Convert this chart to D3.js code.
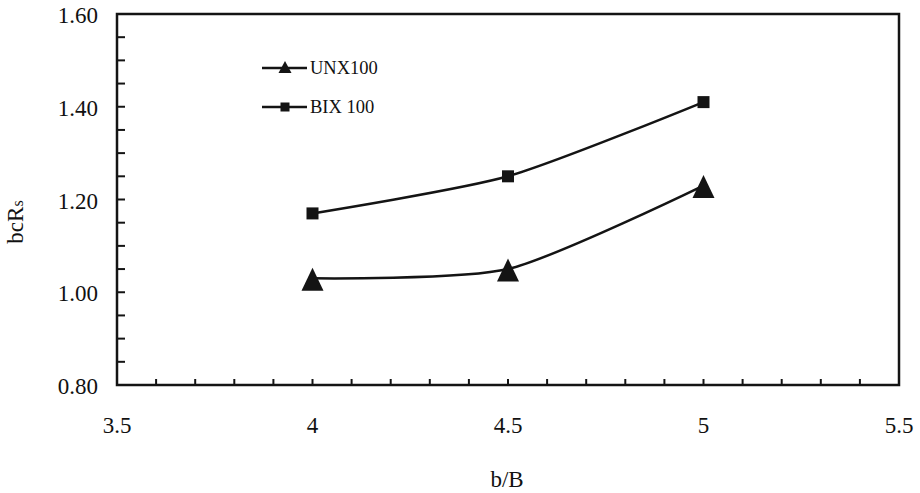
<!DOCTYPE html>
<html>
<head>
<meta charset="utf-8">
<script src="https://cdn.jsdelivr.net/npm/d3@7"></script>
<style>
  html, body { margin: 0; padding: 0; background: #fff; }
  svg { display: block; }
  text { font-family: "Liberation Serif", "Times New Roman", serif; fill: #111; }
</style>
</head>
<body>
<svg id="chart" width="920" height="493"></svg>
<script>
// Ratio values at each b/B
const ratios = [4, 4.5, 5];
const unx100 = [1.03, 1.05, 1.23];
const bix100 = [1.17, 1.25, 1.41];
const xTickLabels = [3.5, 4, 4.5, 5, 5.5];
const yTickLabels = [0.8, 1.0, 1.2, 1.4, 1.6];
const seriesNames = ["UNX100", "BIX 100"];

const svg = d3.select("#chart");
const m = { left: 117, right: 899, top: 14, bottom: 385 };

const x = d3.scaleLinear().domain([3.5, 5.5]).range([m.left, m.right]);
const y = d3.scaleLinear().domain([0.8, 1.6]).range([m.bottom, m.top]);

const ink = "#141414";

// Frame
svg.append("rect")
  .attr("x", m.left).attr("y", m.top)
  .attr("width", m.right - m.left).attr("height", m.bottom - m.top)
  .attr("fill", "none").attr("stroke", ink).attr("stroke-width", 2.5);

// Inward minor ticks, every 0.1 on x and 0.05 on y
const xMinor = d3.range(36, 55).map(v => v / 10);
svg.append("g").selectAll("line").data(xMinor).join("line")
  .attr("x1", d => x(d)).attr("x2", d => x(d))
  .attr("y1", m.bottom).attr("y2", m.bottom - 6)
  .attr("stroke", ink).attr("stroke-width", 2);

const yMinor = d3.range(17, 32).map(v => v * 0.05);
svg.append("g").selectAll("line").data(yMinor).join("line")
  .attr("x1", m.left).attr("x2", m.left + 8)
  .attr("y1", d => y(d)).attr("y2", d => y(d))
  .attr("stroke", ink).attr("stroke-width", 2);

// Tick labels
svg.append("g").selectAll("text").data(xTickLabels).join("text")
  .attr("x", d => x(d)).attr("y", 433)
  .attr("text-anchor", "middle").attr("font-size", 23)
  .text(d => String(d));

svg.append("g").selectAll("text").data(yTickLabels).join("text")
  .attr("x", 98).attr("y", d => y(d) + 9)
  .attr("text-anchor", "end").attr("font-size", 23)
  .text(d => d3.format(".2f")(d));

// Axis titles
svg.append("text")
  .attr("x", 507).attr("y", 487)
  .attr("text-anchor", "middle").attr("font-size", 23)
  .text("b/B");

const yt = svg.append("text")
  .attr("transform", "translate(23,222) rotate(-90)")
  .attr("text-anchor", "middle").attr("font-size", 23);
yt.append("tspan").text("bcR");
yt.append("tspan").attr("font-size", 16).text("s");

// Smoothed series lines
const line = d3.line()
  .x((d, i) => x(ratios[i]))
  .y(d => y(d))
  .curve(d3.curveCardinal.tension(0.3));

[unx100, bix100].forEach(vals => {
  svg.append("path")
    .attr("d", line(vals))
    .attr("fill", "none").attr("stroke", ink).attr("stroke-width", 2.5);
});

// Markers
function triangle(g, cx, cy, w, h) {
  g.append("path")
    .attr("d", `M${cx},${cy - h / 2} L${cx + w / 2},${cy + h / 2} L${cx - w / 2},${cy + h / 2} Z`)
    .attr("fill", ink);
}
function square(g, cx, cy, s) {
  g.append("rect")
    .attr("x", cx - s / 2).attr("y", cy - s / 2)
    .attr("width", s).attr("height", s).attr("fill", ink);
}

const markers = svg.append("g");
unx100.forEach((v, i) => triangle(markers, x(ratios[i]), y(v) + 1, 22, 23));
bix100.forEach((v, i) => square(markers, x(ratios[i]), y(v), 12));

// Legend
const legend = svg.append("g");
const legendRows = [{ y: 68, name: seriesNames[0], kind: "tri" },
                    { y: 107, name: seriesNames[1], kind: "sq" }];
legendRows.forEach(r => {
  legend.append("line")
    .attr("x1", 262).attr("x2", 307).attr("y1", r.y).attr("y2", r.y)
    .attr("stroke", ink).attr("stroke-width", 2.5);
  if (r.kind === "tri") triangle(legend, 285, r.y - 1, 13, 12);
  else square(legend, 285, r.y, 9);
  legend.append("text")
    .attr("x", 310).attr("y", r.y + 6)
    .attr("font-size", 18.5)
    .text(r.name);
});
</script>
</body>
</html>
